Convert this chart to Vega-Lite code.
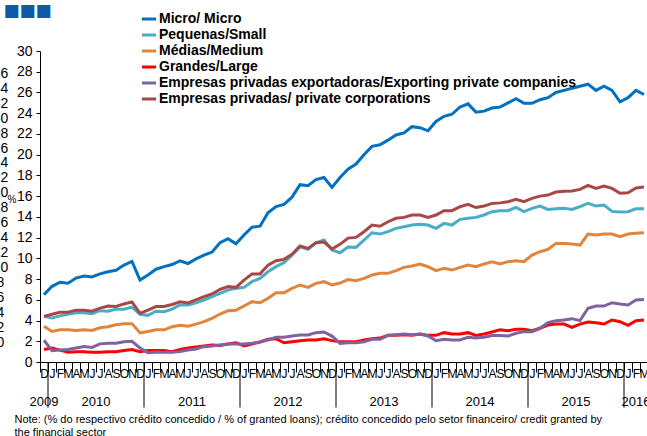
{
 "$schema": "https://vega.github.io/schema/vega-lite/v6.json",
 "width": 608,
 "height": 311,
 "autosize": {"type": "none"},
 "padding": {"left": 40, "top": 51, "right": 0, "bottom": 74},
 "background": "white",
 "config": {"view": {"stroke": null}, "font": "Liberation Sans"},
 "layer": [
 {"layer": [
  {
   "data": {"values": [
  {"m":"2009-12","micro":6.5,"peq":4.4,"med":3.45,"gra":1.2,"xpt":2.1,"priv":4.4},
  {"m":"2010-01","micro":7.3,"peq":4.25,"med":2.95,"gra":1.35,"xpt":1.1,"priv":4.6},
  {"m":"2010-02","micro":7.7,"peq":4.45,"med":3.1,"gra":1.15,"xpt":1.15,"priv":4.8},
  {"m":"2010-03","micro":7.6,"peq":4.6,"med":3.1,"gra":0.95,"xpt":1.2,"priv":4.8},
  {"m":"2010-04","micro":8.1,"peq":4.75,"med":3.05,"gra":1.0,"xpt":1.35,"priv":5.0},
  {"m":"2010-05","micro":8.3,"peq":4.75,"med":3.1,"gra":1.0,"xpt":1.5,"priv":5.0},
  {"m":"2010-06","micro":8.2,"peq":4.65,"med":3.05,"gra":0.95,"xpt":1.4,"priv":4.9},
  {"m":"2010-07","micro":8.5,"peq":4.95,"med":3.3,"gra":0.95,"xpt":1.75,"priv":5.2},
  {"m":"2010-08","micro":8.7,"peq":4.9,"med":3.4,"gra":1.0,"xpt":1.8,"priv":5.4},
  {"m":"2010-09","micro":8.85,"peq":5.1,"med":3.6,"gra":1.0,"xpt":1.8,"priv":5.35},
  {"m":"2010-10","micro":9.35,"peq":5.1,"med":3.7,"gra":1.1,"xpt":1.95,"priv":5.6},
  {"m":"2010-11","micro":9.7,"peq":5.3,"med":3.7,"gra":1.2,"xpt":2.0,"priv":5.8},
  {"m":"2010-12","micro":7.9,"peq":4.6,"med":2.8,"gra":1.0,"xpt":1.35,"priv":4.7},
  {"m":"2011-01","micro":8.4,"peq":4.5,"med":2.95,"gra":1.1,"xpt":0.9,"priv":5.0},
  {"m":"2011-02","micro":8.95,"peq":4.9,"med":3.1,"gra":1.1,"xpt":0.95,"priv":5.35},
  {"m":"2011-03","micro":9.2,"peq":4.85,"med":3.1,"gra":1.1,"xpt":0.95,"priv":5.35},
  {"m":"2011-04","micro":9.4,"peq":5.1,"med":3.4,"gra":1.0,"xpt":0.95,"priv":5.55},
  {"m":"2011-05","micro":9.75,"peq":5.5,"med":3.55,"gra":1.2,"xpt":1.0,"priv":5.8},
  {"m":"2011-06","micro":9.5,"peq":5.5,"med":3.45,"gra":1.35,"xpt":1.15,"priv":5.7},
  {"m":"2011-07","micro":9.95,"peq":5.7,"med":3.65,"gra":1.45,"xpt":1.25,"priv":6.0},
  {"m":"2011-08","micro":10.3,"peq":5.98,"med":3.89,"gra":1.54,"xpt":1.48,"priv":6.3},
  {"m":"2011-09","micro":10.6,"peq":6.3,"med":4.21,"gra":1.64,"xpt":1.54,"priv":6.56},
  {"m":"2011-10","micro":11.5,"peq":6.62,"med":4.63,"gra":1.6,"xpt":1.64,"priv":7.0},
  {"m":"2011-11","micro":11.9,"peq":6.94,"med":4.95,"gra":1.74,"xpt":1.74,"priv":7.27},
  {"m":"2011-12","micro":11.4,"peq":7.1,"med":5.0,"gra":1.86,"xpt":1.74,"priv":7.2},
  {"m":"2012-01","micro":12.25,"peq":7.2,"med":5.4,"gra":1.54,"xpt":1.74,"priv":7.9},
  {"m":"2012-02","micro":13.0,"peq":7.75,"med":5.82,"gra":1.74,"xpt":1.8,"priv":8.5},
  {"m":"2012-03","micro":13.1,"peq":8.07,"med":5.72,"gra":1.93,"xpt":1.93,"priv":8.5},
  {"m":"2012-04","micro":14.4,"peq":8.7,"med":6.14,"gra":2.19,"xpt":2.12,"priv":9.35},
  {"m":"2012-05","micro":15.0,"peq":9.2,"med":6.68,"gra":2.25,"xpt":2.38,"priv":9.77},
  {"m":"2012-06","micro":15.2,"peq":9.58,"med":6.68,"gra":1.86,"xpt":2.38,"priv":9.9},
  {"m":"2012-07","micro":15.9,"peq":10.3,"med":7.1,"gra":1.96,"xpt":2.5,"priv":10.4},
  {"m":"2012-08","micro":17.1,"peq":11.1,"med":7.43,"gra":2.06,"xpt":2.6,"priv":11.2},
  {"m":"2012-09","micro":17.0,"peq":10.86,"med":7.2,"gra":2.12,"xpt":2.6,"priv":10.96},
  {"m":"2012-10","micro":17.6,"peq":11.5,"med":7.59,"gra":2.12,"xpt":2.83,"priv":11.5},
  {"m":"2012-11","micro":17.8,"peq":11.76,"med":7.75,"gra":2.25,"xpt":2.9,"priv":11.57},
  {"m":"2012-12","micro":16.85,"peq":10.8,"med":7.43,"gra":2.06,"xpt":2.5,"priv":10.9},
  {"m":"2013-01","micro":17.8,"peq":10.54,"med":7.62,"gra":1.95,"xpt":1.8,"priv":11.35},
  {"m":"2013-02","micro":18.6,"peq":11.1,"med":7.95,"gra":1.95,"xpt":1.85,"priv":11.95},
  {"m":"2013-03","micro":19.1,"peq":11.06,"med":7.84,"gra":1.96,"xpt":1.86,"priv":12.02},
  {"m":"2013-04","micro":20.0,"peq":11.76,"med":8.07,"gra":2.12,"xpt":1.96,"priv":12.57},
  {"m":"2013-05","micro":20.8,"peq":12.47,"med":8.39,"gra":2.25,"xpt":2.19,"priv":13.21},
  {"m":"2013-06","micro":20.95,"peq":12.34,"med":8.55,"gra":2.31,"xpt":2.19,"priv":13.1},
  {"m":"2013-07","micro":21.4,"peq":12.57,"med":8.55,"gra":2.57,"xpt":2.57,"priv":13.53},
  {"m":"2013-08","micro":21.9,"peq":12.89,"med":8.81,"gra":2.57,"xpt":2.64,"priv":13.86},
  {"m":"2013-09","micro":22.1,"peq":13.05,"med":9.13,"gra":2.64,"xpt":2.7,"priv":13.95},
  {"m":"2013-10","micro":22.7,"peq":13.21,"med":9.26,"gra":2.57,"xpt":2.64,"priv":14.18},
  {"m":"2013-11","micro":22.6,"peq":13.28,"med":9.45,"gra":2.7,"xpt":2.7,"priv":14.18},
  {"m":"2013-12","micro":22.3,"peq":13.21,"med":9.19,"gra":2.57,"xpt":2.51,"priv":13.95},
  {"m":"2014-01","micro":23.2,"peq":12.89,"med":8.81,"gra":2.57,"xpt":2.06,"priv":14.18},
  {"m":"2014-02","micro":23.7,"peq":13.37,"med":9.03,"gra":2.83,"xpt":2.19,"priv":14.6},
  {"m":"2014-03","micro":23.9,"peq":13.21,"med":8.87,"gra":2.7,"xpt":2.12,"priv":14.6},
  {"m":"2014-04","micro":24.6,"peq":13.76,"med":9.13,"gra":2.7,"xpt":2.12,"priv":14.98},
  {"m":"2014-05","micro":24.9,"peq":13.86,"med":9.35,"gra":2.83,"xpt":2.38,"priv":15.2},
  {"m":"2014-06","micro":24.1,"peq":13.95,"med":9.19,"gra":2.57,"xpt":2.31,"priv":14.9},
  {"m":"2014-07","micro":24.2,"peq":14.18,"med":9.45,"gra":2.7,"xpt":2.38,"priv":15.04},
  {"m":"2014-08","micro":24.5,"peq":14.5,"med":9.66,"gra":2.9,"xpt":2.55,"priv":15.3},
  {"m":"2014-09","micro":24.6,"peq":14.6,"med":9.45,"gra":3.1,"xpt":2.55,"priv":15.35},
  {"m":"2014-10","micro":25.0,"peq":14.6,"med":9.68,"gra":3.02,"xpt":2.51,"priv":15.46},
  {"m":"2014-11","micro":25.4,"peq":14.92,"med":9.77,"gra":3.15,"xpt":2.77,"priv":15.69},
  {"m":"2014-12","micro":24.95,"peq":14.5,"med":9.68,"gra":3.15,"xpt":2.93,"priv":15.46},
  {"m":"2015-01","micro":24.95,"peq":14.82,"med":10.32,"gra":3.02,"xpt":2.93,"priv":15.78},
  {"m":"2015-02","micro":25.3,"peq":15.04,"med":10.64,"gra":3.25,"xpt":3.25,"priv":16.0},
  {"m":"2015-03","micro":25.5,"peq":14.72,"med":10.87,"gra":3.57,"xpt":3.79,"priv":16.1},
  {"m":"2015-04","micro":26.0,"peq":14.78,"med":11.44,"gra":3.66,"xpt":3.99,"priv":16.39},
  {"m":"2015-05","micro":26.2,"peq":14.82,"med":11.44,"gra":3.66,"xpt":4.05,"priv":16.46},
  {"m":"2015-06","micro":26.4,"peq":14.72,"med":11.38,"gra":3.34,"xpt":4.18,"priv":16.49},
  {"m":"2015-07","micro":26.6,"peq":14.98,"med":11.28,"gra":3.66,"xpt":3.99,"priv":16.65},
  {"m":"2015-08","micro":26.8,"peq":15.3,"med":12.34,"gra":3.86,"xpt":5.18,"priv":17.04},
  {"m":"2015-09","micro":26.2,"peq":15.04,"med":12.25,"gra":3.79,"xpt":5.4,"priv":16.75},
  {"m":"2015-10","micro":26.6,"peq":15.14,"med":12.34,"gra":3.66,"xpt":5.4,"priv":16.97},
  {"m":"2015-11","micro":26.2,"peq":14.53,"med":12.34,"gra":4.05,"xpt":5.72,"priv":16.75},
  {"m":"2015-12","micro":25.1,"peq":14.47,"med":12.08,"gra":3.89,"xpt":5.59,"priv":16.27},
  {"m":"2016-01","micro":25.5,"peq":14.5,"med":12.34,"gra":3.54,"xpt":5.5,"priv":16.33},
  {"m":"2016-02","micro":26.2,"peq":14.78,"med":12.41,"gra":3.99,"xpt":5.98,"priv":16.78},
  {"m":"2016-03","micro":25.8,"peq":14.78,"med":12.47,"gra":4.05,"xpt":6.04,"priv":16.88}
   ]},
   "transform": [{"fold": ["micro","peq","med","gra","xpt","priv"], "as": ["s","v"]}],
   "mark": {"type": "line", "strokeWidth": 3},
   "encoding": {
    "x": {"field": "m", "type": "ordinal",
     "scale": {"type": "band", "paddingInner": 0, "paddingOuter": 0},
     "axis": {"title": ["Note: (% do respectivo crédito concedido / % of granted loans); crédito concedido pelo setor financeiro/ credit granted by", "the financial sector"],
      "titleAnchor": "start", "titleX": -26, "titleY": 51, "titleFontSize": 11, "titleFontWeight": "normal",
      "titleBaseline": "top", "titleAlign": "left", "titleColor": "black", "titleFont": "Liberation Sans", "titleLineHeight": 13,
      "tickOffset": -4, "labelOffset": 4, "tickSize": 10, "tickColor": "black", "domainColor": "black",
      "labelAngle": 0, "labelFontSize": 12, "labelColor": "black", "labelPadding": -4, "labelBaseline": "top",
      "labelOverlap": false, "labelFont": "Liberation Sans",
      "labelExpr": "substring('JFMAMJJASOND', toNumber(slice(datum.value,5))-1, toNumber(slice(datum.value,5)))"}},
    "y": {"field": "v", "type": "quantitative",
     "scale": {"domain": [0, 30], "nice": false},
     "axis": {"values": [0,2,4,6,8,10,12,14,16,18,20,22,24,26,28,30], "grid": false, "tickSize": 4, "tickColor": "black",
      "domainColor": "black", "labelFontSize": 14, "labelColor": "black", "labelPadding": 4, "labelFont": "Liberation Sans",
      "labelOverlap": false, "title": "■■■", "titleAngle": 0, "titleX": -37, "titleY": -49, "titleBaseline": "top",
      "titleAlign": "left", "titleColor": "#0F5AA5", "titleFontSize": 17, "titleFont": "DejaVu Sans", "titleFontWeight": "normal"}},
    "color": {"field": "s", "type": "nominal",
     "scale": {"domain": ["micro","peq","med","gra","xpt","priv"],
      "range": ["#0070C0","#4BACC6","#E0853D","#FF0000","#7F63A1","#A94747"]},
     "legend": {"orient": "none", "legendX": 100, "legendY": -41, "title": null, "labelFontSize": 14,
      "labelFontWeight": "bold", "labelColor": "black", "labelFont": "Liberation Sans", "symbolType": "stroke",
      "symbolSize": 200, "symbolStrokeWidth": 3, "rowPadding": -2.5, "labelOffset": 1, "labelLimit": 600,
      "labelExpr": "datum.value=='micro' ? ' Micro/ Micro' : datum.value=='peq' ? 'Pequenas/Small' : datum.value=='med' ? 'Médias/Medium' : datum.value=='gra' ? 'Grandes/Large' : datum.value=='xpt' ? 'Empresas privadas exportadoras/Exporting private companies' : 'Empresas privadas/ private corporations'"}}
   }
  },
  {
   "data": {"values": [{"m":"2010-01"},{"m":"2011-01"},{"m":"2012-01"},{"m":"2013-01"},{"m":"2014-01"},{"m":"2015-01"},{"m":"2016-01"}]},
   "mark": {"type": "rule", "color": "black", "strokeWidth": 1},
   "encoding": {
    "x": {"field": "m", "type": "ordinal", "bandPosition": 0},
    "y": {"datum": 0, "type": "quantitative",
     "axis": {"values": [0,2,4,6,8,10,12,14,16,18,20,22,24,26,28,30], "grid": false, "tickSize": 4, "tickColor": "black",
      "domainColor": "black", "labelFontSize": 14, "labelColor": "black", "labelPadding": 4, "labelFont": "Liberation Sans",
      "labelOverlap": false, "title": "■■■", "titleAngle": 0, "titleX": -37, "titleY": -49, "titleBaseline": "top",
      "titleAlign": "left", "titleColor": "#0F5AA5", "titleFontSize": 17, "titleFont": "DejaVu Sans", "titleFontWeight": "normal"}},
    "y2": {"datum": -4.4}
   }
  },
  {
   "data": {"values": [{"m":"2010-07","t":"2010"},{"m":"2011-07","t":"2011"},{"m":"2012-07","t":"2012"},{"m":"2013-07","t":"2013"},{"m":"2014-07","t":"2014"},{"m":"2015-07","t":"2015"}]},
   "mark": {"type": "text", "fontSize": 13, "color": "black", "baseline": "top", "align": "center"},
   "encoding": {
    "x": {"field": "m", "type": "ordinal", "bandPosition": 0},
    "y": {"datum": -3.3, "type": "quantitative",
     "axis": {"values": [0,2,4,6,8,10,12,14,16,18,20,22,24,26,28,30], "grid": false, "tickSize": 4, "tickColor": "black",
      "domainColor": "black", "labelFontSize": 14, "labelColor": "black", "labelPadding": 4, "labelFont": "Liberation Sans",
      "labelOverlap": false, "title": "■■■", "titleAngle": 0, "titleX": -37, "titleY": -49, "titleBaseline": "top",
      "titleAlign": "left", "titleColor": "#0F5AA5", "titleFontSize": 17, "titleFont": "DejaVu Sans", "titleFontWeight": "normal"}},
    "text": {"field": "t"}
   }
  },
  {
   "data": {"values": [{"m":"2009-12","t":"2009"},{"m":"2016-02","t":"2016"}]},
   "mark": {"type": "text", "fontSize": 13, "color": "black", "baseline": "top", "align": "center"},
   "encoding": {
    "x": {"field": "m", "type": "ordinal"},
    "y": {"datum": -3.3, "type": "quantitative",
     "axis": {"values": [0,2,4,6,8,10,12,14,16,18,20,22,24,26,28,30], "grid": false, "tickSize": 4, "tickColor": "black",
      "domainColor": "black", "labelFontSize": 14, "labelColor": "black", "labelPadding": 4, "labelFont": "Liberation Sans",
      "labelOverlap": false, "title": "■■■", "titleAngle": 0, "titleX": -37, "titleY": -49, "titleBaseline": "top",
      "titleAlign": "left", "titleColor": "#0F5AA5", "titleFontSize": 17, "titleFont": "DejaVu Sans", "titleFontWeight": "normal"}},
    "text": {"field": "t"}
   }
  }
 ]},
 {
  "data": {"values": [{"g": 0}]},
  "mark": {"type": "rule", "opacity": 0},
  "encoding": {
   "y": {"field": "g", "type": "quantitative",
    "scale": {"domain": [-2.68, 39], "nice": false, "zero": false},
    "axis": {"orient": "left", "offset": 40, "values": [0,2,4,6,8,10,12,14,16,18,20,22,24,26,28,30,32,34,36],
     "domain": false, "ticks": false, "grid": false, "labelPadding": 0, "labelFontSize": 14, "labelColor": "black",
     "labelFont": "Liberation Sans", "labelOverlap": false, "labelAlign": "center",
     "title": "%", "titleAngle": 0, "titleX": 7, "titleY": 148, "titleAlign": "left", "titleBaseline": "middle",
     "titleFontSize": 10, "titleFontWeight": "normal", "titleColor": "black", "titleFont": "Liberation Sans"}}
  }
 }
 ],
 "resolve": {"scale": {"y": "independent"}, "axis": {"y": "independent"}}
}
